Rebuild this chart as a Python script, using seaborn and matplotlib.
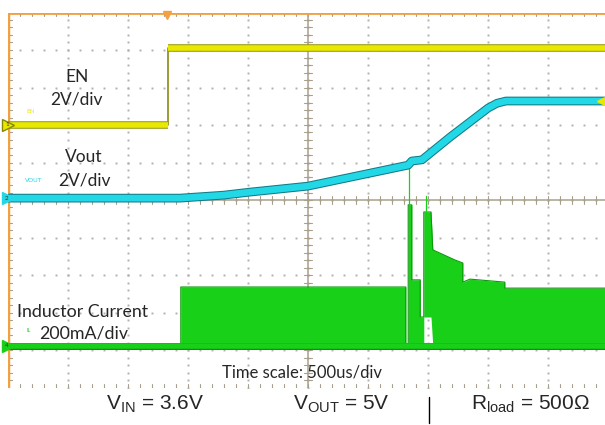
import numpy as np
import pandas as pd
import matplotlib
matplotlib.use("Agg")
import matplotlib.pyplot as plt
import matplotlib.patheffects as pe
import seaborn as sns

# ----------------------------
# Data (scope divisions: x 0-10, y 0-10)
# ----------------------------
en_t = [0.0, 2.67, 2.67, 10.0]
en_v = [7.0, 7.0, 9.05, 9.05]
en_seg = [0, 0, 1, 1]

vout_t = [0.0, 2.87, 3.6, 4.03, 5.0, 6.67, 6.73, 6.9, 7.37, 8.0, 8.15, 8.3, 10.0]
vout_v = [5.05, 5.05, 5.13, 5.21, 5.37, 5.93, 6.04, 6.07, 6.68, 7.45, 7.58, 7.64, 7.64]

il_t  = [0.0, 2.88, 2.88, 6.63, 6.63, 6.67, 6.67, 6.73, 6.73, 6.87, 6.87, 6.93, 6.93, 7.05, 7.08, 7.45, 7.58, 7.58, 7.7, 8.28, 8.28, 10.0]
il_hi = [1.11, 1.11, 2.68, 2.68, 1.11, 1.11, 4.87, 4.87, 2.87, 2.87, 1.88, 1.88, 4.68, 4.68, 3.67, 3.4, 3.32, 2.81, 2.89, 2.81, 2.65, 2.65]
il_lo = [1.11, 1.11, 1.11, 1.11, 1.11, 1.11, 1.11, 1.11, 1.11, 1.11, 1.11, 1.11, 1.88, 1.88, 1.11, 1.11, 1.11, 1.11, 1.11, 1.11, 1.11, 1.11]

bottom_labels = [r"V$_{\mathrm{IN}}$ = 3.6V", r"V$_{\mathrm{OUT}}$ = 5V", r"R$_{\mathrm{load}}$ = 500Ω"]

# ----------------------------
# Style
# ----------------------------
sns.set_style("white")
plt.rcParams["font.family"] = ["Lato", "DejaVu Sans"]
plt.rcParams["mathtext.fontset"] = "custom"
plt.rcParams["mathtext.rm"] = "Liberation Sans"

YELLOW = "#e8e800"
CYAN = "#22d8e6"
GREEN = "#18d018"
ORANGE = "#f2a040"
DOT = "#b0b0b0"
CENTER = "#a8a08c"

fig = plt.figure(figsize=(6.05, 4.25), dpi=100)
ax = fig.add_axes([8 / 605, 1 - 387.5 / 425, 600 / 605, 375 / 425])
ax.set_xlim(0, 10)
ax.set_ylim(0, 10)
ax.axis("off")

# grid dots
minor_x = np.arange(0, 10.01, 0.2)
minor_y = np.arange(0, 10.01, 0.2)
for k in range(1, 10):
    ax.plot(minor_x, np.full_like(minor_x, k), ls="none", marker="s", ms=1.4, color=DOT, mec="none")
    ax.plot(np.full_like(minor_y, k), minor_y, ls="none", marker="s", ms=1.4, color=DOT, mec="none")

# center cross with ticks
ax.axhline(5, color=CENTER, lw=1.1)
ax.axvline(5, color=CENTER, lw=1.1)
for x in minor_x:
    ax.plot([x, x], [4.9, 5.1], color=CENTER, lw=0.8)
    ax.plot([x, x], [0, 0.1], color=CENTER, lw=0.8)
    ax.plot([x, x], [9.9, 10], color=CENTER, lw=0.8)
for y in minor_y:
    ax.plot([4.94, 5.06], [y, y], color=CENTER, lw=0.8)
    ax.plot([0, 0.07], [y, y], color=CENTER, lw=0.8)

# border
ax.plot([0, 0], [0, 10], color=ORANGE, lw=2.5, solid_capstyle="butt")
ax.plot([0, 10], [10, 10], color=ORANGE, lw=2, solid_capstyle="butt")

# inductor current
ax.fill_between(il_t, il_lo, il_hi, color=GREEN, lw=0, zorder=3)
ax.plot(il_t, il_hi, color="#0a9a0a", lw=0.8, zorder=3)
ax.plot([0, 10], [1.11, 1.11], color=GREEN, lw=4, zorder=3,
        path_effects=[pe.Stroke(linewidth=5, foreground="#0c8c0c"), pe.Normal()])
ax.plot([6.68, 6.68], [4.87, 5.93], color=GREEN, lw=0.9, zorder=3)
ax.plot([6.96, 6.96], [4.68, 5.1], color=GREEN, lw=0.9, zorder=3)

# EN: thin edge, then thick levels
en = pd.DataFrame({"t": en_t, "v": en_v, "seg": en_seg})
ax.plot(en_t[1:3], en_v[1:3], color="#8a8a10", lw=1.2, zorder=4)
sns.lineplot(data=en, x="t", y="v", units="seg", estimator=None, sort=False, ax=ax,
             color=YELLOW, lw=4, zorder=4, solid_capstyle="butt",
             path_effects=[pe.Stroke(linewidth=5.5, foreground="#9a9a10"), pe.Normal()])
sns.lineplot(x=vout_t, y=vout_v, ax=ax, sort=False, estimator=None, color=CYAN, lw=4.8, zorder=5,
             path_effects=[pe.Stroke(linewidth=6.3, foreground="#137a86"), pe.Normal()])

# channel markers
for y, c, n in [(7.0, YELLOW, "1"), (5.05, CYAN, "2"), (1.11, GREEN, "4")]:
    ax.plot(0, y, marker=">", ms=8, color=c, mec="#888800" if n == "1" else c, zorder=6, clip_on=False)
    ax.text(-0.02, y, n, fontsize=4.5, ha="center", va="center", color="#333333", zorder=7)
ax.plot(2.65, 9.93, marker="v", ms=6, color=ORANGE, clip_on=False, zorder=6)
ax.plot(9.88, 7.64, marker="<", ms=6, color=YELLOW, clip_on=False, zorder=6)

# labels
ax.text(1.15, 8.28, "EN", fontsize=12.5, ha="center", va="center")
ax.text(1.14, 7.69, "2V/div", fontsize=12.5, ha="center", va="center")
ax.text(0.38, 7.37, "EN", fontsize=4.5, ha="center", va="center", color=YELLOW)
ax.text(1.27, 6.15, "Vout", fontsize=12.5, ha="center", va="center")
ax.text(1.27, 5.51, "2V/div", fontsize=12.5, ha="center", va="center")
ax.text(0.42, 5.51, "VOUT", fontsize=4.5, ha="center", va="center", color=CYAN)
ax.text(0.15, 2.01, "Inductor Current", fontsize=12.8, ha="left", va="center")
ax.text(0.52, 1.43, "200mA/div", fontsize=12.8, ha="left", va="center")
ax.text(0.35, 1.53, "IL", fontsize=4, ha="center", va="center", color=GREEN)
ax.text(3.57, 0.39, "Time scale: 500us/div", fontsize=12, ha="left", va="center")

# bottom annotations
for xp, s in zip([155, 341, 530], bottom_labels):
    fig.text(xp / 605, 1 - 404 / 425, s, fontsize=15, ha="center", va="center",
             family=["Liberation Sans", "DejaVu Sans"])
fig.add_artist(plt.Line2D([429 / 605, 429 / 605], [1 - 397 / 425, 1 - 423 / 425], color="black", lw=1))

fig.savefig("out.png", dpi=100)
